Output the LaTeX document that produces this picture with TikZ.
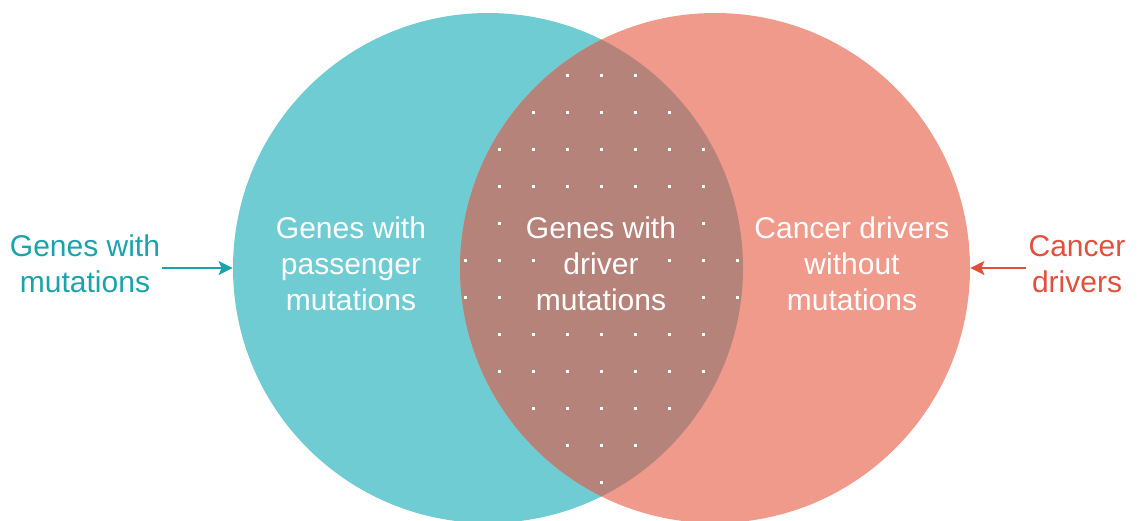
\documentclass[tikz,border=0pt]{standalone}
\usepackage{fontspec}
\setmainfont{Liberation Sans}
\usetikzlibrary{arrows.meta}

\definecolor{genesteal}{HTML}{70CCD3}
\definecolor{driversalmon}{HTML}{F09A8B}
\definecolor{overlapbrown}{HTML}{B5837A}
\definecolor{tealtext}{HTML}{1BA3AC}
\definecolor{redtext}{HTML}{E2503C}

\begin{document}
\begin{tikzpicture}[x=0.5pt,y=-0.5pt,
    set/.style={circle,minimum size=255pt,inner sep=0pt},
    inlabel/.style={text=white,align=center,font=\fontsize{15pt}{18pt}\selectfont},
    outlabel/.style={align=center,inner sep=1pt,font=\fontsize{15pt}{18pt}\selectfont},
    pointer/.style={line width=1pt,-{Stealth[length=7pt,width=7pt,inset=1.5pt]}}]

            \clip (0,0) rectangle (1141,520);

            % The two sets
            \node [set,fill=genesteal] (genes) at (488,268) {};
            \node [set,fill=driversalmon] (drivers) at (715,268) {};

            % Overlap of the two sets
            \begin{scope}
            \clip (genes.center) circle (255);
            \fill [overlapbrown] (drivers.center) circle (255);
            \end{scope}

            % Dot pattern in the overlap, row by row
            \foreach \j/\cols in {
            0/{-1,0,1},
            1/{-2,...,2},
            2/{-3,...,3},
            3/{-3,...,3},
            4/{-3,3},
            5/{-4,-3,-2,2,3,4},
            6/{-4,-3,3,4},
            7/{-3,...,3},
            8/{-3,...,3},
            9/{-2,...,2},
            10/{-1,0,1},
            11/{0}} {
            \foreach \i in \cols {
                \fill [white] ({601+34*(\i)},{75+37*\j}) ++(-1.5,-1.5) rectangle ++(3,3);
            }
            }

            % Texts inside the circles
            \node [inlabel] (passenger) at (351,264) {Genes with\\passenger\\mutations};
            \node [inlabel] (driver) at (601,264) {Genes with\\driver\\mutations};
            \node [inlabel] (nomut) at (852,264) {Cancer drivers\\without\\mutations};

            % Outer labels and arrows
            \node [outlabel,text=tealtext] (mutlab) at (85,264) {Genes with\\mutations};
            \node [outlabel,text=redtext] (drvlab) at (1077,264) {Cancer\\drivers};

            \draw [pointer,tealtext] (mutlab.east |- genes.center) -- (genes.west);
            \draw [pointer,redtext] (drvlab.west |- drivers.center) -- (drivers.east);

\end{tikzpicture}
\end{document}
